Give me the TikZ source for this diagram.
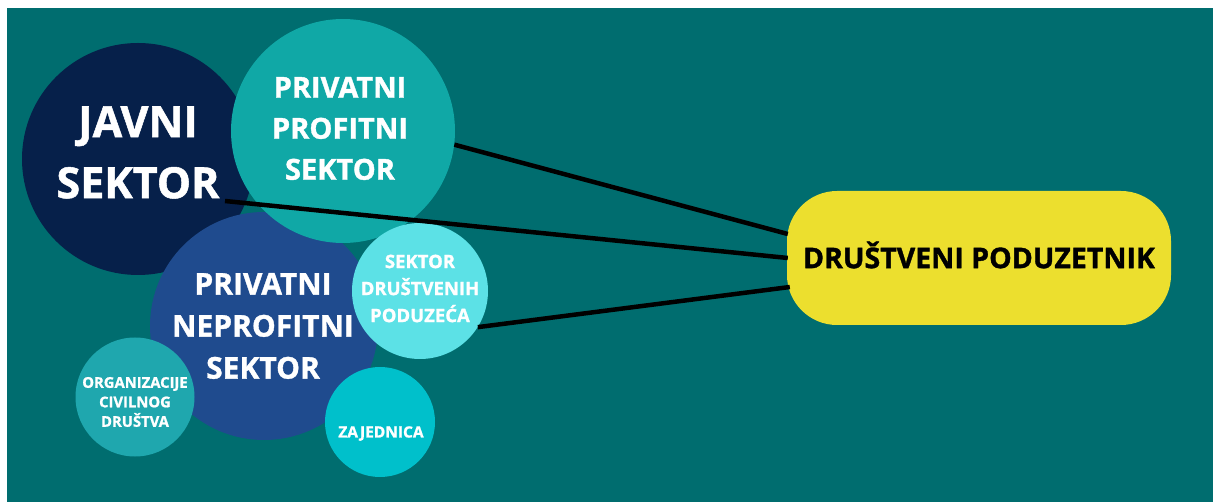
\documentclass[tikz,border=0pt]{standalone}
\usepackage{fontspec}
\IfFontExistsTF{Open Sans ExtraBold}{\setmainfont{Open Sans}[BoldFont={Open Sans ExtraBold}]}{\setmainfont{Open Sans}[BoldFeatures={FakeBold=1.2}]}
\usepackage{xcolor}
\usepackage{tikz}
\definecolor{backteal}{HTML}{006D6F}
\definecolor{navy}{HTML}{06204A}
\definecolor{profteal}{HTML}{10A8A6}
\definecolor{neprblue}{HTML}{1F4B8E}
\definecolor{skycyan}{HTML}{5CE1E6}
\definecolor{civteal}{HTML}{1FA7AE}
\definecolor{zajcyan}{HTML}{00C0CB}
\definecolor{goalyellow}{HTML}{ECDF2E}
\tikzstyle{bubble} = [circle, inner sep=0pt, draw=none]
\tikzstyle{bubbletext} = [text=white, align=center, inner sep=0pt]
\tikzstyle{goal} = [rectangle, rounded corners=50pt, minimum width=384pt, minimum height=134pt, inner sep=0pt, fill=goalyellow, draw=none]
\tikzstyle{link} = [line width=4.5pt, black]

\begin{document}
\begin{tikzpicture}[x=1pt, y=-1pt]
    \useasboundingbox (0,0) rectangle (1213,502);
    \fill[white] (0,0) rectangle (1213,502);
    \fill[backteal] (7,8) rectangle (1213,502);
    % circles, back to front
    \node (javni) [bubble, fill=navy, minimum size=232pt] at (138,159) {};
    \node (neprofitni) [bubble, fill=neprblue, minimum size=228pt] at (264,326) {};
    \node (profitni) [bubble, fill=profteal, minimum size=224pt] at (343,131) {};
    \node (sektor) [bubble, fill=skycyan, minimum size=136pt] at (420,291) {};
    \node (civilno) [bubble, fill=civteal, minimum size=119pt] at (135,397) {};
    \node (zajednica) [bubble, fill=zajcyan, minimum size=110pt] at (380,422) {};
    % texts
    \node (javnitxt) [bubbletext, font=\fontsize{43}{61}\selectfont\bfseries, yshift=6.5pt] at (javni.center) {JAVNI\\SEKTOR};
    \node (profitnitxt) [bubbletext, font=\fontsize{29}{41}\selectfont\bfseries, xshift=-3pt, yshift=2.5pt] at (profitni.center) {PRIVATNI\\PROFITNI\\SEKTOR};
    \node (neprofitnitxt) [bubbletext, font=\fontsize{30}{42}\selectfont\bfseries, xshift=-1pt] at (neprofitni.center) {PRIVATNI\\NEPROFITNI\\SEKTOR};
    \node (sektortxt) [bubbletext, font=\fontsize{18.5}{27}\selectfont\bfseries, yshift=2.5pt] at (sektor.center) {SEKTOR\\DRUŠTVENIH\\PODUZEĆA};
    \node (civilnotxt) [bubbletext, font=\fontsize{14.8}{19.5}\selectfont\bfseries, yshift=-5pt] at (civilno.center) {ORGANIZACIJE\\CIVILNOG\\DRUŠTVA};
    \node (zajednicatxt) [bubbletext, font=\fontsize{15.5}{19}\selectfont\bfseries, text height=11pt, text depth=0pt, xshift=1pt, yshift=-10pt] at (zajednica.center) {ZAJEDNICA};
    % social entrepreneur
    \node (poduzetnik) [goal, font=\fontsize{28.5}{34}\selectfont\bfseries, text height=20.3pt, text depth=0pt] at (979,258) {DRUŠTVENI PODUZETNIK};
    \draw [link] (profitni.-7) -- ([xshift=1pt, yshift=24pt]poduzetnik.west);
    \draw [link] ([shift={(87,42)}]javni.center) -- ([xshift=1pt]poduzetnik.west);
    \draw [link] (sektor.-32) -- ([xshift=3pt, yshift=-29pt]poduzetnik.west);
\end{tikzpicture}
\end{document}
